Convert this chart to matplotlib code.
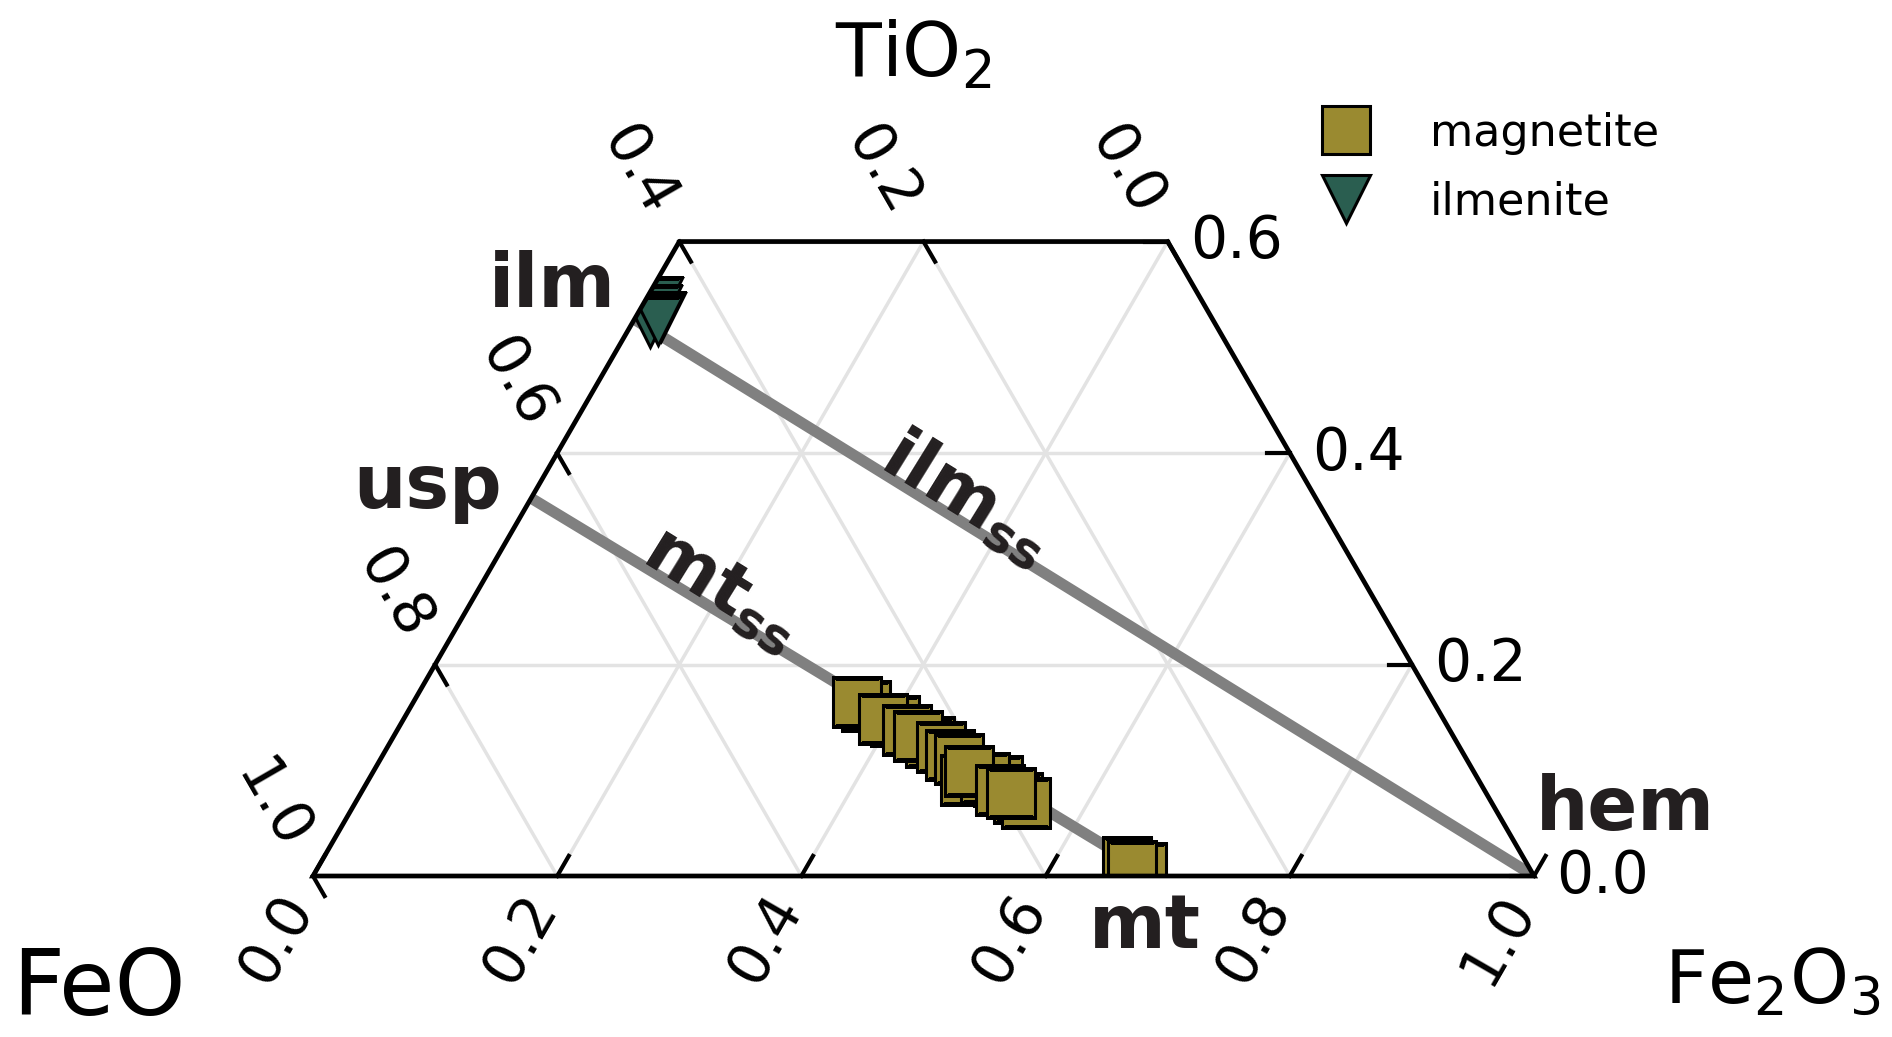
import numpy as np
import matplotlib
matplotlib.use("Agg")
import matplotlib.pyplot as plt
from matplotlib.patches import Polygon
from matplotlib.lines import Line2D

# --- data (weight fractions: FeO, TiO2, Fe2O3) ---
mag_tio2 = [0.1608, 0.1646, 0.1466, 0.1485, 0.1381, 0.1267, 0.1324, 0.1220, 0.1144,
            0.1106, 0.0908, 0.0898, 0.0927, 0.0993, 0.0813, 0.0738, 0.0690, 0.0785,
            0.0137, 0.0071, 0.0090]
mag_fe2o3 = [0.3725, 0.3632, 0.4034, 0.3926, 0.4175, 0.4419, 0.4293, 0.4533, 0.4645,
             0.4738, 0.4886, 0.5161, 0.5041, 0.4876, 0.5220, 0.5405, 0.5494, 0.5325,
             0.6602, 0.6750, 0.6659]
mag_feo = [round(1 - t - f, 4) for t, f in zip(mag_tio2, mag_fe2o3)]

ilm_tio2 = [0.5428, 0.5353, 0.5287, 0.5225, 0.5250]
ilm_fe2o3 = [0.0112, 0.0141, 0.0206, 0.0150, 0.0201]
ilm_feo = [round(1 - t - f, 4) for t, f in zip(ilm_tio2, ilm_fe2o3)]

# end members (TiO2, Fe2O3)
end_members = {"ilm": (0.5264, 0.0), "usp": (0.3573, 0.0),
               "mt": (0.0, 0.6897), "hem": (0.0, 1.0)}

tick_vals = [0.0, 0.2, 0.4, 0.6, 0.8, 1.0]
tio2_max = 0.6

col_mag = "#9a8a30"
col_ilm = "#2a5e50"
col_txt = "#231f20"
h = np.sqrt(3) / 2


def xy(tio2, fe2o3):
    t = np.asarray(tio2, dtype=float)
    f = np.asarray(fe2o3, dtype=float)
    return f + t / 2, t * h


fig = plt.figure(figsize=(18.92, 10.37), dpi=100)
ax = fig.add_axes([0, 0, 1, 1])
ax.set_xlim(-313 / 1221, 1579 / 1221)
ax.set_ylim(-161 / 1221, 876 / 1221)
ax.axis("off")

# trapezoid frame / clip region
corners = [xy(0, 0), xy(0, 1), xy(tio2_max, 1 - tio2_max), xy(tio2_max, 0)]
clip = Polygon([c for c in corners], closed=True, facecolor="none",
               edgecolor="black", lw=3.4, zorder=6, joinstyle="miter")
ax.add_patch(clip)

# grid lines
for v in [0.2, 0.4, 0.6, 0.8]:
    segs = [(xy(v, 0), xy(v, 1 - v)),          # TiO2 const
            (xy(0, v), xy(1 - v, v)),          # Fe2O3 const
            (xy(1 - v, 0), xy(0, 1 - v))]      # FeO const
    for a, b in segs:
        ln, = ax.plot([a[0], b[0]], [a[1], b[1]], color="#e3e3e3", lw=2.5, zorder=1)
        ln.set_clip_path(clip)

# solid solution lines
for a, b in [("usp", "mt"), ("ilm", "hem")]:
    p, q = xy(*end_members[a]), xy(*end_members[b])
    ln, = ax.plot([p[0], q[0]], [p[1], q[1]], color="#808080", lw=8,
                  solid_capstyle="butt", zorder=2)
    ln.set_clip_path(clip)

# data points
mx, my = xy(mag_tio2, mag_fe2o3)
for x0, y0 in zip(mx, my):
    pt, = ax.plot(x0, y0, "s", ms=34, mfc=col_mag, mec="black", mew=2.2, zorder=4)
    pt.set_clip_path(clip)
ix, iy = xy(ilm_tio2, ilm_fe2o3)
for x0, y0 in zip(ix, iy):
    pt, = ax.plot(x0, y0, "v", ms=34, mfc=col_ilm, mec="black", mew=2.2, zorder=4)
    pt.set_clip_path(clip)

# ticks and tick labels
tl = 0.019
off = 0.06
off_l = 0.067
for v in tick_vals:
    # Fe2O3 along bottom
    bx, by = xy(0, v)
    ax.plot([bx, bx + 0.5 * tl], [by, by + h * tl], color="black", lw=3, zorder=6)
    ax.text(bx - 0.5 * off, by - h * off, f"{v:.1f}", fontsize=42, rotation=60,
            rotation_mode="anchor", ha="center", va="center")
    # FeO along left / top
    if 1 - v <= tio2_max:
        bx, by = xy(1 - v, 0)
    else:
        bx, by = xy(tio2_max, 1 - tio2_max - v)
    ax.plot([bx, bx + 0.5 * tl], [by, by - h * tl], color="black", lw=3, zorder=6)
    ax.text(bx - 0.5 * off_l, by + h * off_l, f"{v:.1f}", fontsize=42, rotation=-60,
            rotation_mode="anchor", ha="center", va="center")
    # TiO2 along right
    if v <= tio2_max:
        bx, by = xy(v, 1 - v)
        ax.plot([bx, bx - tl], [by, by], color="black", lw=3, zorder=6)
        ax.text(bx + 0.018, by, f"{v:.1f}", fontsize=42, ha="left", va="center")

# vertex labels
ax.text(0.492, 0.655, r"TiO$_2$", fontsize=54, ha="center", va="baseline")
ax.text(-0.1753, -0.1138, "FeO", fontsize=65, ha="center", va="baseline")
ax.text(1.195, -0.104, r"Fe$_2$O$_3$", fontsize=54, ha="center", va="baseline")

# end member labels
bold = dict(fontsize=53, fontweight="bold", color=col_txt, va="baseline", ha="center")
ax.text(0.1962, 0.4660, "ilm", **bold)
ax.text(0.0938, 0.3014, "usp", **bold)
ax.text(1.075, 0.0377, "hem", **bold)
ax.text(0.681, -0.059, "mt", **bold)

# solid solution labels
ang = -np.degrees(np.arctan2(end_members["ilm"][0] * h,
                             1 - end_members["ilm"][0] / 2))
ax.text(0.5352, 0.3100, r"ilm$_{\mathbf{ss}}$", fontsize=52, fontweight="bold",
        color=col_txt, rotation=ang, rotation_mode="anchor", ha="center",
        va="center", zorder=5)
ax.text(0.3350, 0.2359, r"mt$_{\mathbf{ss}}$", fontsize=52, fontweight="bold",
        color=col_txt, rotation=ang, rotation_mode="anchor", ha="center",
        va="center", zorder=5)

# legend
handles = [Line2D([], [], ls="none", marker="s", ms=34, mfc=col_mag, mec="black",
                  mew=2.2, label="magnetite"),
           Line2D([], [], ls="none", marker="v", ms=34, mfc=col_ilm, mec="black",
                  mew=2.2, label="ilmenite")]
fig.legend(handles=handles, loc="upper left", bbox_to_anchor=(0.6998, 0.892),
           frameon=False, fontsize=32, handlelength=1.0, handletextpad=1.39,
           borderpad=0, borderaxespad=0, labelspacing=0.58, numpoints=1)

fig.savefig("out.png", dpi=100)
